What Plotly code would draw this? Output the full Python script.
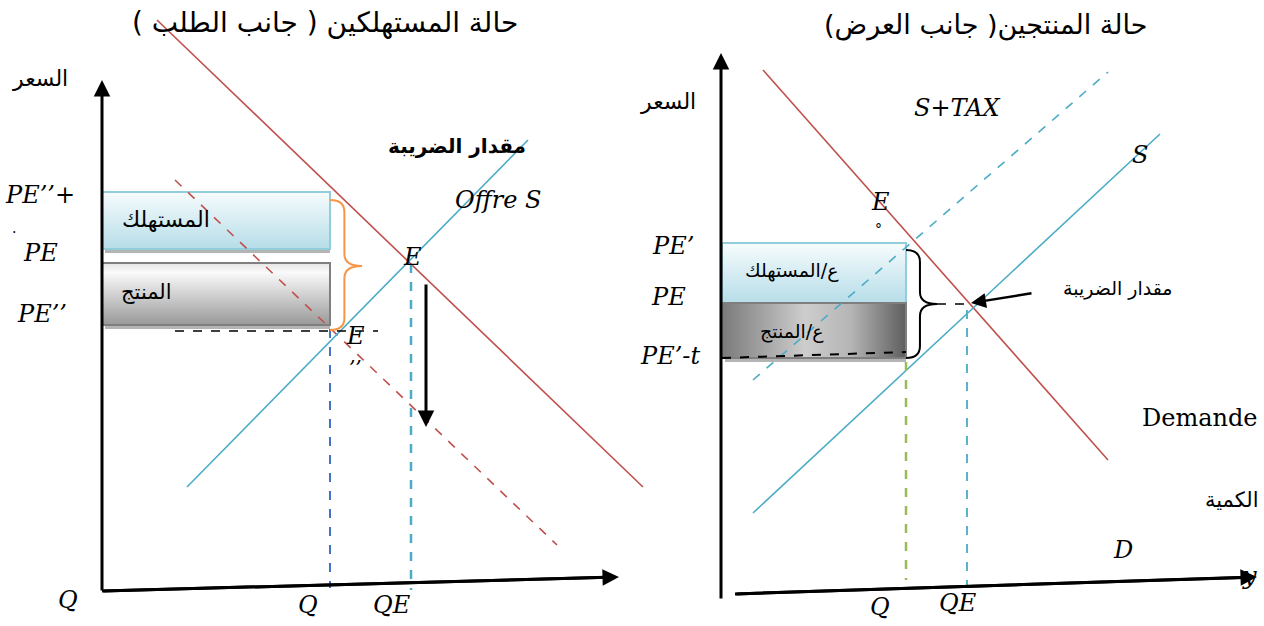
import plotly.graph_objects as go

W, H = 1264, 626

# ---- Left panel: consumers (demand side) ----
L_AXIS_Y = [[102, 592], [102, 80]]
L_AXIS_X = [[102, 591], [619, 577]]
L_DEMAND_X, L_DEMAND_Y = [157, 643], [20, 487]
L_SUPPLY_X, L_SUPPLY_Y = [187, 528], [487, 140]
L_DEMAND_TAX_X, L_DEMAND_TAX_Y = [175, 557], [180, 545]
L_PRICE_LEVELS = [192, 249, 263, 325]          # box edges: PE''+t, PE, PE''
L_Q_LEVELS = [330, 411]                          # Q, QE
L_BOX_X = [102, 330]

# ---- Right panel: producers (supply side) ----
R_AXIS_Y = [[721, 600], [721, 53]]
R_AXIS_X = [[735, 594], [1257, 577]]
R_DEMAND_X, R_DEMAND_Y = [763, 1108], [70, 460]
R_SUPPLY_X, R_SUPPLY_Y = [753, 1160], [513, 134]
R_SUPPLY_TAX_X, R_SUPPLY_TAX_Y = [753, 1108], [380, 72]
R_PRICE_LEVELS = [243, 303, 358]                 # PE', PE, PE'-t
R_Q_LEVELS = [906, 967]                          # Q, QE
R_BOX_X = [722, 906]

RED = "#C0504D"
CYAN = "#4BACC6"
BLUE = "#4472C4"
GREEN = "#9BBB59"
ORANGE = "#F79646"

fig = go.Figure()


def seg(xs, ys, color, width=1.6, dash="solid"):
    fig.add_trace(go.Scatter(x=xs, y=ys, mode="lines", hoverinfo="skip",
                             line=dict(color=color, width=width, dash=dash)))


def box(x0, x1, y0, y1, colors, line_color, gtype="vertical"):
    # drop shadow
    fig.add_trace(go.Scatter(x=[x0 + 3, x1, x1, x0 + 3, x0 + 3],
                             y=[y1, y1, y1 + 4, y1 + 4, y1], mode="lines",
                             fill="toself", fillcolor="#B4B4B4",
                             line=dict(width=0), hoverinfo="skip"))
    grad = dict(type=gtype, colorscale=colors)
    if gtype == "vertical":
        grad.update(start=y0, stop=y1)
    else:
        grad.update(start=x0, stop=x1)
    fig.add_trace(go.Scatter(x=[x0, x1, x1, x0, x0], y=[y0, y0, y1, y1, y0],
                             mode="lines", fill="toself", fillgradient=grad,
                             line=dict(color=line_color, width=2),
                             hoverinfo="skip"))


def brace(x0, top, mid, bot, w, color, width=2):
    xm = x0 + 0.45 * w
    r = 12
    path = (f"M {x0},{top} Q {xm},{top} {xm},{top + r} "
            f"L {xm},{mid - r} Q {xm},{mid} {x0 + w},{mid} "
            f"Q {xm},{mid} {xm},{mid + r} "
            f"L {xm},{bot - r} Q {xm},{bot} {x0},{bot}")
    fig.add_shape(type="path", path=path, xref="x", yref="y",
                  line=dict(color=color, width=width))


def arrow(tail, head, width=2.5, size=1.3):
    fig.add_annotation(x=head[0], y=head[1], ax=tail[0], ay=tail[1],
                       xref="x", yref="y", axref="x", ayref="y",
                       showarrow=True, arrowhead=2, arrowsize=size,
                       arrowwidth=width, arrowcolor="black", text="")


def label(x, y, text, size=24, italic=True, family="DejaVu Serif",
          bold=False, anchor="center"):
    t = text
    if bold:
        t = f"<b>{t}</b>"
    if italic:
        t = f"<i>{t}</i>"
    fig.add_annotation(x=x, y=y, xref="x", yref="y", text=t, showarrow=False,
                       xanchor=anchor, yanchor="middle",
                       font=dict(family=family, size=size, color="black"))


AR = "DejaVu Sans"
RLM = "\u200f"

# ================= Left panel =================
pt, pe_top, pe_bot, pb = L_PRICE_LEVELS
qa, qe = L_Q_LEVELS
box(L_BOX_X[0], L_BOX_X[1], pt, pe_top,
    [[0, "#F7FCFD"], [1, "#B6DDE8"]], "#92CDDC")
box(L_BOX_X[0], L_BOX_X[1], pe_bot, pb,
    [[0, "#E4E4E4"], [0.15, "#FAFAFA"], [1, "#999999"]], "#7F7F7F")

seg(L_DEMAND_TAX_X, L_DEMAND_TAX_Y, RED, 1.6, "dash")
seg(L_DEMAND_X, L_DEMAND_Y, RED)
seg(L_SUPPLY_X, L_SUPPLY_Y, CYAN)
seg([qa, qa], [pb + 4, 588], BLUE, 2, "dash")
seg([qe, qe], [264, 590], CYAN, 2.5, "dash")
seg([175, 378], [pb + 6, pb + 6], "black", 1.6, "dash")

seg([L_AXIS_X[0][0], L_AXIS_X[1][0] - 10], [L_AXIS_X[0][1], L_AXIS_X[1][1] + 0.3],
    "black", 3)
arrow(L_AXIS_X[0], L_AXIS_X[1], 3, 1.1)
arrow(L_AXIS_Y[0], L_AXIS_Y[1], 3, 1.1)
arrow((426, 283), (426, 427), 3, 1.1)

brace(L_BOX_X[1], 200, 266, 330, 32, ORANGE, 2)

label(325, 22, RLM + "حالة المستهلكين ( جانب الطلب )" + RLM, 28, False, AR)
label(40, 78, "السعر", 22, False, AR)
label(457, 146, "مقدار الضريبة", 20, False, AR, bold=True)
label(498, 200, "Offre S")
label(166, 219, "المستهلك", 22, False, AR)
label(146, 292, "المنتج", 21, False, AR)
label(40, 195, "PE’’+")
label(14, 228, ".", 14, False)
label(40, 253, "PE")
label(42, 314, "PE’’")
label(412, 257, "E")
label(355, 336, "E")
label(355, 368, "’’", 20)
label(68, 600, "Q")
label(308, 605, "Q")
label(392, 605, "QE")

# ================= Right panel =================
rt, rm, rb = R_PRICE_LEVELS
rq, rqe = R_Q_LEVELS
box(R_BOX_X[0], R_BOX_X[1], rt, rm,
    [[0, "#F7FCFD"], [1, "#B6DDE8"]], "#92CDDC")
box(R_BOX_X[0], R_BOX_X[1], rm, rb,
    [[0, "#7A7A7A"], [0.45, "#CDCDCD"], [0.7, "#B5B5B5"], [1, "#5E5E5E"]],
    "#7F7F7F", "horizontal")

seg(R_SUPPLY_TAX_X, R_SUPPLY_TAX_Y, CYAN, 1.6, "dash")
seg(R_DEMAND_X, R_DEMAND_Y, RED)
seg(R_SUPPLY_X, R_SUPPLY_Y, CYAN)
seg([rq, rq], [rb + 4, 580], GREEN, 2.5, "dash")
seg([rqe, rqe], [310, 586], CYAN, 1.8, "dash")
seg([937, 972], [rm + 1, rm + 1], "black", 1.6, "dash")
seg([R_BOX_X[0], R_BOX_X[1]], [rb, rb - 6], "black", 2, "dash")

seg([R_AXIS_X[0][0], R_AXIS_X[1][0] - 10], [R_AXIS_X[0][1], R_AXIS_X[1][1] + 0.3],
    "black", 3)
arrow(R_AXIS_X[0], R_AXIS_X[1], 3, 1.1)
arrow(R_AXIS_Y[0], R_AXIS_Y[1], 3, 1.1)
arrow((1033, 293), (971, 303), 2.5, 1.2)

brace(R_BOX_X[1], 250, 304, 358, 31, "black", 2)

label(985, 25, RLM + "حالة المنتجين( جانب العرض)" + RLM, 27, False, AR)
label(668, 101, "السعر", 22, False, AR)
label(957, 108, "S+TAX")
label(1140, 155, "S")
label(880, 202, "E")
label(878, 229, "°", 14, False)
label(792, 270, "ع/المستهلك", 19, False, AR)
label(792, 331, "ع/المنتج", 19, False, AR)
label(673, 246, "PE’")
label(668, 297, "PE")
label(670, 356, "PE’-t")
label(1118, 288, "مقدار الضريبة", 19, False, AR)
label(1200, 418, "Demande", 24, False)
label(1232, 500, "الكمية", 21, False, AR)
label(1123, 550, "D")
label(1249, 576, "y")
label(880, 607, "Q")
label(958, 603, "QE")

fig.update_layout(
    width=W, height=H, margin=dict(l=0, r=0, t=0, b=0),
    paper_bgcolor="white", plot_bgcolor="white", showlegend=False,
    xaxis=dict(range=[0, W], visible=False, fixedrange=True),
    yaxis=dict(range=[H, 0], visible=False, fixedrange=True),
)

fig.write_html("out.html")
